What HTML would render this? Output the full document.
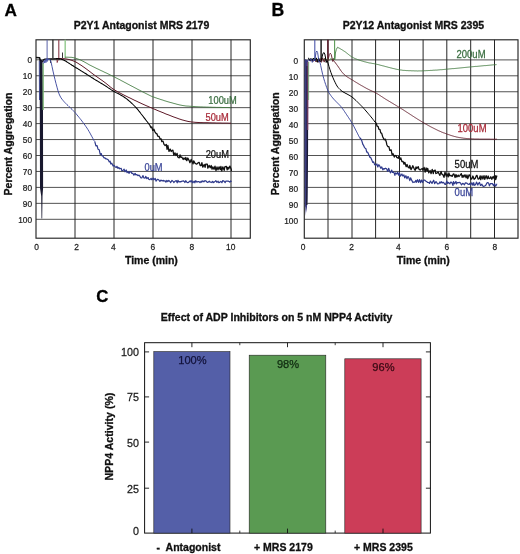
<!DOCTYPE html>
<html><head><meta charset="utf-8"><title>Figure</title>
<style>
html,body{margin:0;padding:0;background:#fff;}
body{width:520px;height:554px;overflow:hidden;}
svg{display:block;font-family:"Liberation Sans",Arial,Helvetica,sans-serif;}
</style></head><body>
<svg width="520" height="554" viewBox="0 0 520 554">
<rect width="520" height="554" fill="#fff"/>
<rect x="36.00" y="39.80" width="214.30" height="198.40" fill="#fff" stroke="#262626" stroke-width="1.15"/>
<line x1="75.00" y1="39.80" x2="75.00" y2="238.20" stroke="#262626" stroke-width="1.0"/>
<line x1="114.00" y1="39.80" x2="114.00" y2="238.20" stroke="#262626" stroke-width="1.0"/>
<line x1="153.00" y1="39.80" x2="153.00" y2="238.20" stroke="#262626" stroke-width="1.0"/>
<line x1="192.00" y1="39.80" x2="192.00" y2="238.20" stroke="#262626" stroke-width="1.0"/>
<line x1="231.00" y1="39.80" x2="231.00" y2="238.20" stroke="#262626" stroke-width="1.0"/>
<line x1="36.00" y1="59.80" x2="250.30" y2="59.80" stroke="#262626" stroke-width="0.8"/>
<line x1="36.00" y1="75.75" x2="250.30" y2="75.75" stroke="#262626" stroke-width="0.8"/>
<line x1="36.00" y1="91.70" x2="250.30" y2="91.70" stroke="#262626" stroke-width="0.8"/>
<line x1="36.00" y1="107.65" x2="250.30" y2="107.65" stroke="#262626" stroke-width="0.8"/>
<line x1="36.00" y1="123.60" x2="250.30" y2="123.60" stroke="#262626" stroke-width="0.8"/>
<line x1="36.00" y1="139.55" x2="250.30" y2="139.55" stroke="#262626" stroke-width="0.8"/>
<line x1="36.00" y1="155.50" x2="250.30" y2="155.50" stroke="#262626" stroke-width="0.8"/>
<line x1="36.00" y1="171.45" x2="250.30" y2="171.45" stroke="#262626" stroke-width="0.8"/>
<line x1="36.00" y1="187.40" x2="250.30" y2="187.40" stroke="#262626" stroke-width="0.8"/>
<line x1="36.00" y1="203.35" x2="250.30" y2="203.35" stroke="#262626" stroke-width="0.8"/>
<line x1="36.00" y1="219.30" x2="250.30" y2="219.30" stroke="#262626" stroke-width="0.8"/>
<text transform="translate(32.00,63.10) scale(0.900,1)" font-size="9.21" font-weight="normal" text-anchor="end" fill="#222"  stroke="#222" stroke-width="0.25">0</text>
<text transform="translate(32.00,79.05) scale(0.900,1)" font-size="9.21" font-weight="normal" text-anchor="end" fill="#222"  stroke="#222" stroke-width="0.25">10</text>
<text transform="translate(32.00,95.00) scale(0.900,1)" font-size="9.21" font-weight="normal" text-anchor="end" fill="#222"  stroke="#222" stroke-width="0.25">20</text>
<text transform="translate(32.00,110.95) scale(0.900,1)" font-size="9.21" font-weight="normal" text-anchor="end" fill="#222"  stroke="#222" stroke-width="0.25">30</text>
<text transform="translate(32.00,126.90) scale(0.900,1)" font-size="9.21" font-weight="normal" text-anchor="end" fill="#222"  stroke="#222" stroke-width="0.25">40</text>
<text transform="translate(32.00,142.85) scale(0.900,1)" font-size="9.21" font-weight="normal" text-anchor="end" fill="#222"  stroke="#222" stroke-width="0.25">50</text>
<text transform="translate(32.00,158.80) scale(0.900,1)" font-size="9.21" font-weight="normal" text-anchor="end" fill="#222"  stroke="#222" stroke-width="0.25">60</text>
<text transform="translate(32.00,174.75) scale(0.900,1)" font-size="9.21" font-weight="normal" text-anchor="end" fill="#222"  stroke="#222" stroke-width="0.25">70</text>
<text transform="translate(32.00,190.70) scale(0.900,1)" font-size="9.21" font-weight="normal" text-anchor="end" fill="#222"  stroke="#222" stroke-width="0.25">80</text>
<text transform="translate(32.00,206.65) scale(0.900,1)" font-size="9.21" font-weight="normal" text-anchor="end" fill="#222"  stroke="#222" stroke-width="0.25">90</text>
<text transform="translate(32.00,222.60) scale(0.900,1)" font-size="9.21" font-weight="normal" text-anchor="end" fill="#222"  stroke="#222" stroke-width="0.25">100</text>
<text transform="translate(36.50,249.90) scale(0.860,1)" font-size="9.80" font-weight="normal" text-anchor="middle" fill="#222"  stroke="#222" stroke-width="0.25">0</text>
<text transform="translate(76.70,249.90) scale(0.860,1)" font-size="9.80" font-weight="normal" text-anchor="middle" fill="#222"  stroke="#222" stroke-width="0.25">2</text>
<text transform="translate(113.30,249.90) scale(0.860,1)" font-size="9.80" font-weight="normal" text-anchor="middle" fill="#222"  stroke="#222" stroke-width="0.25">4</text>
<text transform="translate(152.80,249.90) scale(0.860,1)" font-size="9.80" font-weight="normal" text-anchor="middle" fill="#222"  stroke="#222" stroke-width="0.25">6</text>
<text transform="translate(191.90,249.90) scale(0.860,1)" font-size="9.80" font-weight="normal" text-anchor="middle" fill="#222"  stroke="#222" stroke-width="0.25">8</text>
<text transform="translate(230.70,249.90) scale(0.860,1)" font-size="9.80" font-weight="normal" text-anchor="middle" fill="#222"  stroke="#222" stroke-width="0.25">10</text>
<text x="141.50" y="29.40" font-size="10.50" font-weight="bold" text-anchor="middle" fill="#111"  stroke="#111" stroke-width="0.3">P2Y1 Antagonist MRS 2179</text>
<text x="4.50" y="16.00" font-size="17.20" font-weight="bold" text-anchor="start" fill="#000"  stroke="#000" stroke-width="0.3">A</text>
<text x="151.40" y="263.70" font-size="10.50" font-weight="bold" text-anchor="middle" fill="#111"  stroke="#111" stroke-width="0.3">Time (min)</text>
<text transform="translate(12.3,144) rotate(-90)" font-size="10.5" font-weight="bold" text-anchor="middle" fill="#111" stroke="#111" stroke-width="0.3">Percent Aggregation</text>
<line x1="47.1" y1="39.8" x2="47.1" y2="58.0" stroke="#5a62a8" stroke-width="1.0"/>
<line x1="52.9" y1="39.8" x2="52.9" y2="58.0" stroke="#1a1a1a" stroke-width="1.2"/>
<line x1="58.8" y1="39.8" x2="58.8" y2="58.0" stroke="#8a3a48" stroke-width="1.1"/>
<line x1="65.2" y1="39.8" x2="65.2" y2="58.0" stroke="#98cc94" stroke-width="1.5"/>
<path d="M39.6,59 L42.6,60.5 L43.0,110 L43.1,188 L42.5,196 L42.2,218.5 L41.5,218.5 L41.2,196 L40.0,188 L39.8,110 Z" fill="#18182e"/>
<path d="M39.3,61 L39.5,100" stroke="#2f3a88" stroke-width="0.9" fill="none"/>
<path d="M43.2,63 L43.2,110" stroke="#7fb878" stroke-width="1.3" fill="none"/>
<path d="M36,57.6 L39.6,57.8 L40.4,61 M42.6,62 L43.4,60 L45,59.2 L50,58.9 L60,58.7" stroke="#111" stroke-width="1.5" fill="none" stroke-linejoin="round"/>
<path d="M43.6,63.5 L44.2,60.5 L44.8,63 L45.4,59.5 L46,62.5 L46.6,58.5 L47.2,61.5 L47.6,58 L48.2,60 L49,59 L50.2,60" stroke="#4a55a8" stroke-width="0.9" fill="none" stroke-linejoin="round"/>
<path d="M50.6,59.5 L50.6,63 M62.5,52.5 L62.5,58" stroke="#222" stroke-width="0.9" fill="none"/>
<path d="M57,59.5 L57.2,62.5 L58,60" stroke="#8a3a48" stroke-width="1" fill="none"/>
<path d="M65.1,57.2 L66.1,57.2 L67.1,57.2 L68.1,57.2 L69.1,57.3 L70.1,57.3 L71.1,57.3 L72.1,57.4 L73.1,57.6 L74.1,57.8 L75.1,58.1 L76.1,58.4 L77.1,58.7 L78.1,59.1 L79.1,59.4 L80.1,59.8 L81.1,60.3 L82.1,60.8 L83.1,61.3 L84.1,61.8 L85.1,62.4 L86.1,62.9 L87.1,63.5 L88.1,64.1 L89.1,64.7 L90.1,65.2 L91.1,65.7 L92.1,66.2 L93.1,66.7 L94.1,67.2 L95.1,67.7 L96.1,68.2 L97.1,68.7 L98.1,69.1 L99.1,69.6 L100.1,70.1 L101.1,70.6 L102.1,71.0 L103.1,71.5 L104.1,72.0 L105.1,72.5 L106.1,72.9 L107.1,73.4 L108.1,73.9 L109.1,74.4 L110.1,74.9 L111.1,75.4 L112.1,75.8 L113.1,76.3 L114.1,76.9 L115.1,77.4 L116.1,77.9 L117.1,78.4 L118.1,78.9 L119.1,79.4 L120.1,79.9 L121.1,80.5 L122.1,81.0 L123.1,81.5 L124.1,82.1 L125.1,82.6 L126.1,83.1 L127.1,83.7 L128.1,84.2 L129.1,84.7 L130.1,85.3 L131.1,85.8 L132.1,86.3 L133.1,86.8 L134.1,87.4 L135.1,87.9 L136.1,88.4 L137.1,89.0 L138.1,89.5 L139.1,90.0 L140.1,90.5 L141.1,91.0 L142.1,91.6 L143.1,92.1 L144.1,92.6 L145.1,93.1 L146.1,93.6 L147.1,94.1 L148.1,94.6 L149.1,95.1 L150.1,95.6 L151.1,96.1 L152.1,96.5 L153.1,96.9 L154.1,97.2 L155.1,97.6 L156.1,97.9 L157.1,98.3 L158.1,98.6 L159.1,98.9 L160.1,99.3 L161.1,99.6 L162.1,99.9 L163.1,100.2 L164.1,100.6 L165.1,100.9 L166.1,101.2 L167.1,101.5 L168.1,101.8 L169.1,102.1 L170.1,102.4 L171.1,102.6 L172.1,102.9 L173.1,103.2 L174.1,103.5 L175.1,103.7 L176.1,104.0 L177.1,104.3 L178.1,104.5 L179.1,104.8 L180.1,105.0 L181.1,105.2 L182.1,105.4 L183.1,105.6 L184.1,105.7 L185.1,105.9 L186.1,106.0 L187.1,106.1 L188.1,106.1 L189.1,106.2 L190.1,106.3 L191.1,106.3 L192.1,106.4 L193.1,106.5 L194.1,106.5 L195.1,106.6 L196.1,106.7 L197.1,106.7 L198.1,106.8 L199.1,106.8 L200.1,106.9 L201.1,106.9 L202.1,106.9 L203.1,107.0 L204.1,107.0 L205.1,107.0 L206.1,107.1 L207.1,107.1 L208.1,107.1 L209.1,107.2 L210.1,107.2 L211.1,107.2 L212.1,107.3 L213.1,107.3 L214.1,107.3 L215.1,107.3 L216.1,107.4 L217.1,107.4 L218.1,107.4 L219.1,107.4 L220.1,107.4 L221.1,107.4 L222.1,107.5 L223.1,107.5 L224.1,107.5 L225.1,107.5 L226.1,107.5 L227.1,107.5 L228.1,107.5 L229.1,107.6 L230.1,107.6 L231.0,107.6" fill="none" stroke="#447c42" stroke-width="0.9"/>
<path d="M58.0,58.6 L59.0,58.6 L60.0,58.6 L61.0,58.6 L62.0,58.7 L63.0,58.7 L64.0,58.7 L65.0,58.8 L66.0,58.9 L67.0,59.1 L68.0,59.3 L69.0,59.5 L70.0,59.8 L71.0,60.1 L72.0,60.4 L73.0,60.8 L74.0,61.2 L75.0,61.6 L76.0,62.1 L77.0,62.7 L78.0,63.3 L79.0,64.0 L80.0,64.6 L81.0,65.2 L82.0,65.9 L83.0,66.6 L84.0,67.3 L85.0,68.0 L86.0,68.7 L87.0,69.5 L88.0,70.2 L89.0,71.0 L90.0,71.7 L91.0,72.5 L92.0,73.3 L93.0,74.0 L94.0,74.8 L95.0,75.5 L96.0,76.2 L97.0,76.9 L98.0,77.6 L99.0,78.3 L100.0,79.0 L101.0,79.7 L102.0,80.4 L103.0,81.1 L104.0,81.9 L105.0,82.6 L106.0,83.4 L107.0,84.2 L108.0,85.0 L109.0,85.8 L110.0,86.7 L111.0,87.5 L112.0,88.2 L113.0,89.0 L114.0,89.6 L115.0,90.2 L116.0,90.8 L117.0,91.4 L118.0,91.9 L119.0,92.5 L120.0,93.0 L121.0,93.5 L122.0,94.1 L123.0,94.6 L124.0,95.1 L125.0,95.6 L126.0,96.1 L127.0,96.6 L128.0,97.1 L129.0,97.6 L130.0,98.0 L131.0,98.5 L132.0,99.0 L133.0,99.5 L134.0,100.0 L135.0,100.5 L136.0,100.9 L137.0,101.4 L138.0,101.9 L139.0,102.4 L140.0,102.8 L141.0,103.3 L142.0,103.8 L143.0,104.2 L144.0,104.7 L145.0,105.1 L146.0,105.6 L147.0,106.0 L148.0,106.4 L149.0,106.9 L150.0,107.3 L151.0,107.7 L152.0,108.2 L153.0,108.6 L154.0,109.0 L155.0,109.4 L156.0,109.8 L157.0,110.3 L158.0,110.7 L159.0,111.1 L160.0,111.5 L161.0,111.9 L162.0,112.3 L163.0,112.7 L164.0,113.1 L165.0,113.6 L166.0,114.0 L167.0,114.4 L168.0,114.7 L169.0,115.1 L170.0,115.5 L171.0,115.9 L172.0,116.3 L173.0,116.7 L174.0,117.1 L175.0,117.4 L176.0,117.8 L177.0,118.1 L178.0,118.5 L179.0,118.9 L180.0,119.2 L181.0,119.5 L182.0,119.9 L183.0,120.1 L184.0,120.4 L185.0,120.7 L186.0,120.9 L187.0,121.2 L188.0,121.4 L189.0,121.6 L190.0,121.7 L191.0,121.9 L192.0,122.0 L193.0,122.1 L194.0,122.2 L195.0,122.3 L196.0,122.4 L197.0,122.4 L198.0,122.5 L199.0,122.5 L200.0,122.6 L201.0,122.6 L202.0,122.6 L203.0,122.7 L204.0,122.7 L205.0,122.7 L206.0,122.7 L207.0,122.7 L208.0,122.7 L209.0,122.8 L210.0,122.8 L211.0,122.8 L212.0,122.9 L213.0,122.9 L214.0,122.9 L215.0,122.9 L216.0,123.0 L217.0,123.0 L218.0,123.0 L219.0,123.0 L220.0,123.0 L221.0,123.0 L222.0,123.1 L223.0,123.1 L224.0,123.1 L225.0,123.1 L226.0,123.1 L227.0,123.1 L228.0,123.1 L229.0,123.2 L230.0,123.2 L231.0,123.2" fill="none" stroke="#5e1a28" stroke-width="1"/>
<path d="M56.0,58.7 L57.0,58.7 L58.0,58.7 L59.0,58.8 L60.0,58.9 L61.0,59.1 L62.0,59.4 L63.0,59.8 L64.0,60.2 L65.0,60.7 L66.0,61.3 L67.0,62.0 L68.0,62.6 L69.0,63.2 L70.0,63.9 L71.0,64.5 L72.0,65.2 L73.0,65.8 L74.0,66.5 L75.0,67.1 L76.0,67.7 L77.0,68.3 L78.0,68.9 L79.0,69.5 L80.0,70.1 L81.0,70.8 L82.0,71.4 L83.0,72.0 L84.0,72.6 L85.0,73.2 L86.0,73.8 L87.0,74.5 L88.0,75.1 L89.0,75.8 L90.0,76.4 L91.0,77.1 L92.0,77.7 L93.0,78.3 L94.0,79.0 L95.0,79.6 L96.0,80.2 L97.0,80.8 L98.0,81.4 L99.0,82.0 L100.0,82.6 L101.0,83.2 L102.0,83.8 L103.0,84.4 L104.0,85.0 L105.0,85.6 L106.0,86.2 L107.0,86.9 L108.0,87.6 L109.0,88.2 L110.0,88.9 L111.0,89.6 L112.0,90.2 L113.0,90.9 L114.0,91.5 L115.0,92.1 L116.0,92.6 L117.0,93.1 L118.0,93.5 L119.0,94.0 L120.0,94.6 L121.0,95.2 L122.0,95.8 L123.0,96.4 L124.0,97.0 L125.0,97.7 L126.0,98.4 L127.0,99.2 L128.0,100.0 L129.0,100.8 L130.0,101.7 L131.0,102.6 L132.0,103.5 L133.0,104.5 L134.0,105.5 L135.0,106.5 L136.0,107.6 L137.0,108.7 L138.0,109.8 L139.0,111.1 L140.0,112.3 L141.0,113.7 L142.0,115.0 L143.0,116.3 L144.0,117.6 L145.0,118.9 L146.0,120.2 L147.0,121.5 L148.0,122.8 L149.0,124.1 L149.7,125.0" fill="none" stroke="#000" stroke-width="1.05" stroke-linejoin="round"/>
<path d="M149.7,125.0 L151.0,127.6 L151.8,127.0 L152.8,130.5 L153.9,129.3 L154.9,131.8 L156.2,133.6 L156.9,133.7 L157.8,136.2 L159.1,136.5 L160.1,139.0 L161.2,138.9 L161.8,141.5 L163.0,141.1 L164.0,144.4 L165.1,145.5 L166.3,144.5 L167.1,149.3 L167.9,145.5 L169.0,151.4 L170.2,149.1 L171.2,151.5 L172.2,150.4 L172.9,150.2 L173.8,155.1 L175.0,152.9 L176.0,155.5 L177.1,153.4 L177.7,157.0 L179.2,157.9 L180.1,154.8 L180.8,157.4 L181.8,157.0 L183.2,159.5 L183.9,157.9 L185.3,159.5 L185.8,157.5 L186.8,160.7 L187.8,158.0 L189.3,160.9 L189.9,162.7 L191.2,159.4 L192.3,162.3 L193.1,163.9 L193.7,160.8 L195.1,163.4 L196.3,164.0 L196.8,164.1 L198.2,162.7 L199.2,162.4 L200.2,165.6 L201.2,165.5 L201.9,162.6 L202.8,167.1 L204.2,164.5 L205.1,167.4 L205.7,164.2 L207.3,164.2 L207.8,168.2 L209.1,165.4 L210.2,167.7 L211.2,165.5 L212.0,169.2 L212.8,166.9 L214.0,169.3 L215.0,166.1 L216.0,170.6 L217.0,167.0 L218.0,169.9 L219.1,166.8 L220.3,169.7 L220.9,166.3 L221.8,170.8 L222.8,166.8 L224.2,170.3 L224.8,166.9 L226.3,166.3 L227.2,169.8 L227.9,167.2 L228.7,169.0 L229.9,166.1 L231.3,169.6 L231.4,171.0" fill="none" stroke="#111" stroke-width="1.3" stroke-linejoin="round"/>
<path d="M50.0,59.5 L51.0,62.0 L52.0,66.4 L53.0,71.1 L54.0,75.4 L55.0,79.6 L56.0,83.5 L57.0,87.2 L58.0,90.8 L59.0,93.8 L60.0,96.0 L61.0,97.8 L62.0,99.2 L63.0,100.4 L64.0,101.6 L65.0,102.7 L66.0,103.7 L67.0,104.7 L68.0,105.6 L69.0,106.6 L70.0,107.5 L71.0,108.5 L72.0,109.4 L73.0,110.4 L74.0,111.5 L75.0,112.5 L76.0,113.7 L77.0,114.9 L78.0,116.1 L79.0,117.3 L80.0,118.6 L81.0,119.8 L82.0,121.1 L83.0,122.5 L84.0,123.8 L85.0,125.2 L86.0,126.7 L87.0,128.1 L88.0,129.7 L89.0,131.4 L90.0,133.1 L91.0,135.0 L92.0,136.8 L93.0,138.7 L94.0,140.6 L94.8,141.6" fill="none" stroke="#36419a" stroke-width="0.9" stroke-linejoin="round"/>
<path d="M94.8,141.6 L95.9,145.9 L97.1,145.7 L98.0,149.2 L99.2,149.7 L100.2,154.4 L101.3,153.6 L101.8,155.6 L102.8,155.9 L103.9,157.8 L104.7,157.8 L106.0,159.0 L106.8,158.9 L108.2,159.7 L109.3,161.9 L110.1,161.1 L110.8,164.0 L111.8,163.2 L113.1,166.1 L114.0,165.3 L115.3,166.9 L116.3,167.5 L116.9,166.4 L118.0,168.4 L118.9,167.5 L119.8,168.8 L121.1,168.3 L121.9,170.7 L123.1,170.3 L124.1,169.2 L125.0,171.8 L126.2,170.0 L127.1,172.7 L127.9,171.7 L129.1,173.4 L129.7,171.7 L131.0,171.9 L131.9,173.5 L132.8,173.2 L133.9,175.2 L135.1,173.4 L135.9,174.9 L136.7,174.5 L138.1,175.7 L139.0,175.1 L139.8,176.2 L141.0,178.0 L141.9,177.8 L143.0,175.6 L143.8,177.8 L145.1,178.1 L145.7,176.4 L146.9,178.6 L148.2,177.6 L148.8,179.4 L149.9,179.6 L151.1,178.3 L151.7,179.7 L153.3,178.2 L153.8,179.9 L155.2,178.4 L156.0,181.1 L157.0,179.8 L157.7,179.3 L158.9,180.0 L159.9,181.4 L160.9,180.1 L162.2,181.0 L163.3,180.4 L163.8,181.2 L164.9,180.7 L165.9,182.2 L166.9,180.4 L167.8,181.6 L168.8,180.4 L170.0,181.7 L170.7,182.5 L172.0,180.4 L173.3,181.6 L173.8,182.6 L175.1,181.2 L176.2,180.6 L177.2,182.8 L177.9,180.4 L179.1,182.1 L180.0,181.5 L180.7,182.0 L182.1,181.1 L182.8,181.1 L183.7,180.9 L184.9,182.5 L185.7,180.7 L186.8,182.2 L187.8,182.6 L188.8,182.1 L190.3,180.8 L191.0,182.0 L191.9,180.7 L192.7,182.8 L194.2,181.2 L194.9,182.8 L195.7,180.7 L196.9,182.2 L197.9,181.6 L198.8,181.5 L200.0,182.6 L201.3,181.1 L201.7,182.2 L202.7,180.8 L203.9,181.9 L204.9,180.7 L206.1,181.0 L207.2,182.3 L207.7,182.5 L209.3,181.1 L210.0,182.1 L211.1,182.0 L211.9,182.6 L212.7,181.3 L213.7,182.6 L215.3,181.1 L215.8,180.6 L217.0,182.3 L218.1,181.2 L218.8,182.7 L219.9,182.1 L220.8,181.4 L221.9,182.7 L222.8,180.6 L223.8,181.0 L225.2,182.6 L225.8,181.1 L226.9,181.0 L228.2,181.1 L229.1,181.5 L229.8,182.2 L230.8,181.0 L231.3,182.1" fill="none" stroke="#2f3a8c" stroke-width="1.2" stroke-linejoin="round"/>
<text transform="translate(208.30,103.90) scale(0.930,1)" font-size="10.00" font-weight="normal" text-anchor="start" fill="#3a6e40"  stroke="#3a6e40" stroke-width="0.25">100uM</text>
<text transform="translate(205.50,120.70) scale(0.930,1)" font-size="10.00" font-weight="normal" text-anchor="start" fill="#a82a38"  stroke="#a82a38" stroke-width="0.25">50uM</text>
<text transform="translate(205.70,157.80) scale(0.930,1)" font-size="10.00" font-weight="normal" text-anchor="start" fill="#111"  stroke="#111" stroke-width="0.25">20uM</text>
<text transform="translate(144.50,170.50) scale(0.930,1)" font-size="10.00" font-weight="normal" text-anchor="start" fill="#3a4598"  stroke="#3a4598" stroke-width="0.25">0uM</text>
<rect x="304.30" y="39.80" width="213.70" height="198.40" fill="#fff" stroke="#262626" stroke-width="1.15"/>
<line x1="328.00" y1="39.80" x2="328.00" y2="238.20" stroke="#262626" stroke-width="1.0"/>
<line x1="352.00" y1="39.80" x2="352.00" y2="238.20" stroke="#262626" stroke-width="1.0"/>
<line x1="375.60" y1="39.80" x2="375.60" y2="238.20" stroke="#262626" stroke-width="1.0"/>
<line x1="399.50" y1="39.80" x2="399.50" y2="238.20" stroke="#262626" stroke-width="1.0"/>
<line x1="423.10" y1="39.80" x2="423.10" y2="238.20" stroke="#262626" stroke-width="1.0"/>
<line x1="446.80" y1="39.80" x2="446.80" y2="238.20" stroke="#262626" stroke-width="1.0"/>
<line x1="470.70" y1="39.80" x2="470.70" y2="238.20" stroke="#262626" stroke-width="1.0"/>
<line x1="494.50" y1="39.80" x2="494.50" y2="238.20" stroke="#262626" stroke-width="1.0"/>
<line x1="304.30" y1="59.90" x2="518.00" y2="59.90" stroke="#262626" stroke-width="0.8"/>
<line x1="304.30" y1="75.80" x2="518.00" y2="75.80" stroke="#262626" stroke-width="0.8"/>
<line x1="304.30" y1="91.75" x2="518.00" y2="91.75" stroke="#262626" stroke-width="0.8"/>
<line x1="304.30" y1="107.70" x2="518.00" y2="107.70" stroke="#262626" stroke-width="0.8"/>
<line x1="304.30" y1="123.65" x2="518.00" y2="123.65" stroke="#262626" stroke-width="0.8"/>
<line x1="304.30" y1="139.60" x2="518.00" y2="139.60" stroke="#262626" stroke-width="0.8"/>
<line x1="304.30" y1="155.50" x2="518.00" y2="155.50" stroke="#262626" stroke-width="0.8"/>
<line x1="304.30" y1="171.45" x2="518.00" y2="171.45" stroke="#262626" stroke-width="0.8"/>
<line x1="304.30" y1="187.40" x2="518.00" y2="187.40" stroke="#262626" stroke-width="0.8"/>
<line x1="304.30" y1="203.35" x2="518.00" y2="203.35" stroke="#262626" stroke-width="0.8"/>
<line x1="304.30" y1="219.30" x2="518.00" y2="219.30" stroke="#262626" stroke-width="0.8"/>
<text transform="translate(298.00,64.20) scale(0.900,1)" font-size="9.21" font-weight="normal" text-anchor="end" fill="#222"  stroke="#222" stroke-width="0.25">0</text>
<text transform="translate(298.00,80.10) scale(0.900,1)" font-size="9.21" font-weight="normal" text-anchor="end" fill="#222"  stroke="#222" stroke-width="0.25">10</text>
<text transform="translate(298.00,96.05) scale(0.900,1)" font-size="9.21" font-weight="normal" text-anchor="end" fill="#222"  stroke="#222" stroke-width="0.25">20</text>
<text transform="translate(298.00,112.00) scale(0.900,1)" font-size="9.21" font-weight="normal" text-anchor="end" fill="#222"  stroke="#222" stroke-width="0.25">30</text>
<text transform="translate(298.00,127.95) scale(0.900,1)" font-size="9.21" font-weight="normal" text-anchor="end" fill="#222"  stroke="#222" stroke-width="0.25">40</text>
<text transform="translate(298.00,143.90) scale(0.900,1)" font-size="9.21" font-weight="normal" text-anchor="end" fill="#222"  stroke="#222" stroke-width="0.25">50</text>
<text transform="translate(298.00,159.80) scale(0.900,1)" font-size="9.21" font-weight="normal" text-anchor="end" fill="#222"  stroke="#222" stroke-width="0.25">60</text>
<text transform="translate(298.00,175.75) scale(0.900,1)" font-size="9.21" font-weight="normal" text-anchor="end" fill="#222"  stroke="#222" stroke-width="0.25">70</text>
<text transform="translate(298.00,191.70) scale(0.900,1)" font-size="9.21" font-weight="normal" text-anchor="end" fill="#222"  stroke="#222" stroke-width="0.25">80</text>
<text transform="translate(298.00,207.65) scale(0.900,1)" font-size="9.21" font-weight="normal" text-anchor="end" fill="#222"  stroke="#222" stroke-width="0.25">90</text>
<text transform="translate(298.00,223.60) scale(0.900,1)" font-size="9.21" font-weight="normal" text-anchor="end" fill="#222"  stroke="#222" stroke-width="0.25">100</text>
<text transform="translate(303.10,249.90) scale(0.860,1)" font-size="9.80" font-weight="normal" text-anchor="middle" fill="#222"  stroke="#222" stroke-width="0.25">0</text>
<text transform="translate(351.70,249.90) scale(0.860,1)" font-size="9.80" font-weight="normal" text-anchor="middle" fill="#222"  stroke="#222" stroke-width="0.25">2</text>
<text transform="translate(398.30,249.90) scale(0.860,1)" font-size="9.80" font-weight="normal" text-anchor="middle" fill="#222"  stroke="#222" stroke-width="0.25">4</text>
<text transform="translate(446.80,249.90) scale(0.860,1)" font-size="9.80" font-weight="normal" text-anchor="middle" fill="#222"  stroke="#222" stroke-width="0.25">6</text>
<text transform="translate(494.90,249.90) scale(0.860,1)" font-size="9.80" font-weight="normal" text-anchor="middle" fill="#222"  stroke="#222" stroke-width="0.25">8</text>
<text x="413.40" y="29.40" font-size="10.50" font-weight="bold" text-anchor="middle" fill="#111"  stroke="#111" stroke-width="0.3">P2Y12 Antagonist MRS 2395</text>
<text x="271.40" y="16.00" font-size="17.60" font-weight="bold" text-anchor="start" fill="#000"  stroke="#000" stroke-width="0.3">B</text>
<text x="423.30" y="263.70" font-size="10.50" font-weight="bold" text-anchor="middle" fill="#111"  stroke="#111" stroke-width="0.3">Time (min)</text>
<text transform="translate(279.0,143.8) rotate(-90)" font-size="10.5" font-weight="bold" text-anchor="middle" fill="#111" stroke="#111" stroke-width="0.3">Percent Aggregation</text>
<line x1="314.8" y1="39.8" x2="314.8" y2="60.0" stroke="#4a55a8" stroke-width="1.1"/>
<line x1="321.1" y1="39.8" x2="321.1" y2="60.0" stroke="#111" stroke-width="1.4"/>
<line x1="327.9" y1="39.8" x2="327.9" y2="60.0" stroke="#5a1525" stroke-width="1.4"/>
<line x1="334.6" y1="39.8" x2="334.6" y2="60.0" stroke="#5a9a55" stroke-width="1.1"/>
<path d="M304.6,59 L308.3,60.5 L308.1,150 L307.4,200 L306.6,213 L305.8,206 L305.3,216 L304.8,205 L304.6,150 Z" fill="#3c3c80"/>
<path d="M307.2,66 L307.3,150 L306.8,205" stroke="#15152a" stroke-width="1.2" fill="none"/>
<path d="M307.9,62 L307.8,130" stroke="#9a4a70" stroke-width="0.9" fill="none"/>
<path d="M308.7,62 L308.6,100" stroke="#6aa868" stroke-width="0.8" fill="none"/>
<path d="M309.0,58.7 L310.1,61.0 L311.5,59.0 L312.6,60.4 L314.0,58.2 L315.0,60.1 L316.5,58.5 L317.7,60.3 L319.4,58.7 L320.8,60.4 L322.1,57.9 L323.8,60.4 L324.9,58.1 L326.1,59.9 L327.7,58.5 L329.3,60.4 L330.9,58.5 L332.0,59.9 L333.4,58.2 L334.6,60.0 L335.0,58.0 L335.4,53.0 L336.3,49.5 L337.5,47.3 L337.7,47.3 L338.7,47.9 L339.7,48.4 L340.7,49.0 L341.7,49.6 L342.7,50.2 L343.7,50.9 L344.7,51.5 L345.7,52.2 L346.7,53.0 L347.7,53.8 L348.7,54.6 L349.7,55.4 L350.7,56.1 L351.7,56.8 L352.7,57.4 L353.7,57.9 L354.7,58.4 L355.7,58.8 L356.7,59.2 L357.7,59.6 L358.7,59.9 L359.7,60.3 L360.7,60.6 L361.7,60.9 L362.7,61.2 L363.7,61.5 L364.7,61.8 L365.7,62.0 L366.7,62.3 L367.7,62.5 L368.7,62.8 L369.7,63.0 L370.7,63.1 L371.7,63.3 L372.7,63.5 L373.7,63.6 L374.7,63.8 L375.7,64.0 L376.7,64.3 L377.7,64.5 L378.7,64.7 L379.7,65.0 L380.7,65.3 L381.7,65.5 L382.7,65.8 L383.7,66.0 L384.7,66.3 L385.7,66.6 L386.7,66.8 L387.7,67.1 L388.7,67.4 L389.7,67.6 L390.7,67.9 L391.7,68.1 L392.7,68.4 L393.7,68.6 L394.7,68.8 L395.7,69.1 L396.7,69.3 L397.7,69.5 L398.7,69.7 L399.7,69.8 L400.7,70.0 L401.7,70.1 L402.7,70.3 L403.7,70.4 L404.7,70.4 L405.7,70.5 L406.7,70.6 L407.7,70.6 L408.7,70.7 L409.7,70.7 L410.7,70.7 L411.7,70.8 L412.7,70.8 L413.7,70.8 L414.7,70.9 L415.7,70.9 L416.7,70.9 L417.7,71.0 L418.7,70.9 L419.7,70.9 L420.7,70.9 L421.7,70.9 L422.7,70.8 L423.7,70.8 L424.7,70.7 L425.7,70.7 L426.7,70.6 L427.7,70.6 L428.7,70.5 L429.7,70.5 L430.7,70.4 L431.7,70.4 L432.7,70.3 L433.7,70.2 L434.7,70.2 L435.7,70.1 L436.7,70.1 L437.7,70.0 L438.7,69.9 L439.7,69.8 L440.7,69.7 L441.7,69.7 L442.7,69.6 L443.7,69.5 L444.7,69.4 L445.7,69.3 L446.7,69.2 L447.7,69.1 L448.7,69.0 L449.7,68.9 L450.7,68.8 L451.7,68.7 L452.7,68.6 L453.7,68.6 L454.7,68.5 L455.7,68.4 L456.7,68.3 L457.7,68.2 L458.7,68.1 L459.7,68.0 L460.7,67.9 L461.7,67.8 L462.7,67.7 L463.7,67.6 L464.7,67.5 L465.7,67.4 L466.7,67.3 L467.7,67.2 L468.7,67.1 L469.7,67.0 L470.7,66.9 L471.7,66.8 L472.7,66.7 L473.7,66.6 L474.7,66.5 L475.7,66.4 L476.7,66.4 L477.7,66.3 L478.7,66.2 L479.7,66.1 L480.7,66.0 L481.7,65.9 L482.7,65.8 L483.7,65.7 L484.7,65.6 L485.7,65.6 L486.7,65.5 L487.7,65.4 L488.7,65.3 L489.7,65.2 L490.7,65.1 L491.7,65.0 L492.7,64.9 L493.7,64.8 L494.7,64.8 L495.7,64.7 L496.5,64.6" fill="none" stroke="#447c42" stroke-width="0.9" stroke-linejoin="round"/>
<path d="M309.0,59.3 L310.4,61.2 L311.8,59.2 L313.0,61.5 L314.6,59.3 L316.0,62.0 L317.7,59.1 L318.7,62.3 L320.4,58.6 L321.5,62.3 L322.7,57.8 L324.2,62.1 L325.3,58.0 L326.4,61.3 L327.9,61.0 L328.5,58.0 L329.3,54.5 L330.3,53.2 L331.2,54.5 L332.0,58.0 L332.8,61.5 L333.5,59.5 L333.5,60.5 L334.5,61.7 L335.5,63.0 L336.5,64.3 L337.5,65.7 L338.5,67.1 L339.5,68.6 L340.5,70.1 L341.5,71.5 L342.5,72.7 L343.5,73.8 L344.5,74.8 L345.5,75.6 L346.5,76.4 L347.5,77.1 L348.5,77.7 L349.5,78.3 L350.5,78.9 L351.5,79.5 L352.5,80.1 L353.5,80.7 L354.5,81.4 L355.5,82.0 L356.5,82.6 L357.5,83.2 L358.5,83.8 L359.5,84.4 L360.5,85.0 L361.5,85.6 L362.5,86.1 L363.5,86.7 L364.5,87.3 L365.5,87.8 L366.5,88.4 L367.5,88.9 L368.5,89.4 L369.5,89.9 L370.5,90.4 L371.5,90.8 L372.5,91.3 L373.5,91.7 L374.5,92.2 L375.5,92.7 L376.5,93.3 L377.5,93.9 L378.5,94.5 L379.5,95.2 L380.5,95.8 L381.5,96.5 L382.5,97.1 L383.5,97.8 L384.5,98.4 L385.5,99.1 L386.5,99.7 L387.5,100.3 L388.5,100.9 L389.5,101.5 L390.5,102.1 L391.5,102.7 L392.5,103.3 L393.5,103.9 L394.5,104.5 L395.5,105.1 L396.5,105.7 L397.5,106.3 L398.5,106.9 L399.5,107.5 L400.5,108.1 L401.5,108.8 L402.5,109.4 L403.5,110.0 L404.5,110.7 L405.5,111.3 L406.5,112.0 L407.5,112.6 L408.5,113.3 L409.5,113.9 L410.5,114.6 L411.5,115.2 L412.5,115.9 L413.5,116.5 L414.5,117.2 L415.5,117.8 L416.5,118.4 L417.5,119.1 L418.5,119.7 L419.5,120.3 L420.5,120.9 L421.5,121.5 L422.5,122.1 L423.5,122.7 L424.5,123.3 L425.5,123.9 L426.5,124.4 L427.5,125.0 L428.5,125.6 L429.5,126.1 L430.5,126.7 L431.5,127.2 L432.5,127.7 L433.5,128.2 L434.5,128.7 L435.5,129.2 L436.5,129.7 L437.5,130.2 L438.5,130.7 L439.5,131.1 L440.5,131.5 L441.5,132.0 L442.5,132.4 L443.5,132.8 L444.5,133.1 L445.5,133.5 L446.5,133.9 L447.5,134.3 L448.5,134.6 L449.5,134.9 L450.5,135.3 L451.5,135.6 L452.5,135.9 L453.5,136.2 L454.5,136.5 L455.5,136.7 L456.5,137.0 L457.5,137.2 L458.5,137.4 L459.5,137.6 L460.5,137.7 L461.5,137.9 L462.5,138.0 L463.5,138.2 L464.5,138.3 L465.5,138.4 L466.5,138.5 L467.5,138.6 L468.5,138.6 L469.5,138.7 L470.5,138.8 L471.5,138.8 L472.5,138.9 L473.5,138.9 L474.5,139.0 L475.5,139.0 L476.5,139.0 L477.5,139.0 L478.5,139.0 L479.5,139.1 L480.5,139.1 L481.5,139.1 L482.5,139.1 L483.5,139.1 L484.5,139.1 L485.5,139.1 L486.5,139.1 L487.5,139.1 L488.5,139.1 L489.5,139.1 L490.5,139.2 L491.5,139.2 L492.5,139.2 L493.5,139.2 L494.5,139.2 L495.5,139.2 L496.5,139.2 L497.0,139.2" fill="none" stroke="#5e1a28" stroke-width="0.9" stroke-linejoin="round"/>
<path d="M308.5,57.8 L309.6,61.0 L310.9,58.4 L312.2,60.8 L313.3,58.0 L315.0,60.6 L316.4,57.9 L317.4,62.3 L318.5,58.2 L319.9,61.8 L321.1,61.0 L321.8,58.0 L322.8,54.0 L323.8,52.5 L324.8,54.0 L325.6,58.0 L326.2,62.5 L327.0,60.5 L327.0,60.5 L328.0,63.1 L329.0,66.5 L330.0,69.8 L331.0,72.7 L332.0,75.3 L333.0,77.8 L334.0,80.1 L335.0,82.2 L336.0,84.2 L337.0,86.0 L338.0,87.4 L339.0,88.5 L340.0,89.5 L341.0,90.4 L342.0,91.2 L343.0,91.9 L344.0,92.4 L345.0,93.0 L346.0,93.5 L347.0,94.0 L348.0,94.6 L349.0,95.1 L350.0,95.7 L351.0,96.3 L352.0,97.0 L353.0,97.8 L354.0,98.7 L355.0,99.6 L356.0,100.5 L357.0,101.5 L358.0,102.5 L359.0,103.5 L360.0,104.5 L361.0,105.5 L362.0,106.5 L363.0,107.6 L364.0,108.7 L365.0,109.8 L366.0,111.0 L367.0,112.1 L368.0,113.3 L369.0,114.5 L370.0,115.7 L371.0,116.9 L372.0,118.1 L373.0,119.4 L374.0,120.7 L375.0,122.1 L376.1,122.8" fill="none" stroke="#000" stroke-width="1.0" stroke-linejoin="round"/>
<path d="M376.1,122.8 L377.1,126.2 L378.2,126.6 L378.8,129.1 L380.0,129.7 L380.7,132.7 L381.7,133.4 L382.8,137.0 L384.2,139.7 L385.3,139.1 L386.3,142.0 L386.8,144.7 L387.8,146.5 L388.9,146.6 L389.8,150.3 L391.2,150.0 L392.0,154.4 L393.0,153.7 L394.3,157.1 L394.9,155.5 L396.2,155.8 L396.7,157.4 L398.3,158.3 L398.7,156.5 L400.0,159.5 L400.8,157.9 L401.9,161.6 L403.1,161.5 L404.0,164.2 L404.8,162.3 L406.2,166.7 L407.1,164.5 L408.0,167.0 L409.2,168.1 L409.8,165.3 L411.0,169.6 L412.1,167.6 L412.8,165.7 L414.2,168.8 L415.2,170.3 L416.0,166.8 L416.7,168.6 L418.2,166.6 L419.0,169.3 L420.1,170.0 L420.7,169.6 L422.3,168.4 L422.9,170.2 L424.1,167.4 L425.2,172.0 L426.1,167.9 L427.1,171.0 L427.7,168.3 L428.8,172.8 L430.1,170.5 L431.1,173.7 L432.2,169.4 L433.3,173.6 L433.7,170.8 L435.2,170.1 L435.8,173.5 L437.0,173.1 L438.1,171.9 L439.0,173.8 L439.9,175.4 L441.1,171.5 L441.8,174.2 L442.8,174.6 L444.0,177.3 L445.0,172.2 L446.3,176.2 L447.0,173.8 L448.2,176.9 L448.9,172.9 L449.8,175.9 L450.9,175.3 L452.2,176.4 L453.2,174.1 L453.9,173.9 L455.1,177.5 L456.0,174.5 L456.8,177.0 L458.2,175.1 L458.9,176.6 L459.8,175.6 L461.3,173.6 L462.2,177.3 L463.1,175.3 L463.7,177.1 L465.0,174.7 L466.1,177.8 L467.0,175.0 L467.8,178.6 L469.1,174.8 L470.0,175.3 L471.0,179.3 L471.9,178.8 L472.9,176.0 L474.1,179.3 L475.3,178.3 L476.2,175.9 L477.0,175.4 L478.1,179.1 L479.3,178.7 L480.2,175.8 L480.7,179.7 L482.0,175.9 L482.9,179.1 L484.0,175.7 L484.8,179.4 L486.1,175.7 L487.3,178.9 L488.2,176.0 L488.8,178.4 L489.9,178.5 L490.8,176.8 L491.8,179.3 L493.1,176.4 L494.2,178.6 L495.2,175.7 L495.7,179.6 L496.9,175.5" fill="none" stroke="#111" stroke-width="1.3" stroke-linejoin="round"/>
<path d="M308.5,59.3 L309.6,61.0 L311.1,58.8 L312.3,62.4 L313.8,59.1 L314.8,61.0 L315.3,57.0 L316.0,52.5 L316.8,51.0 L317.6,52.5 L318.3,57.0 L318.9,62.0 L319.7,61.0 L319.7,61.0 L320.7,65.6 L321.7,70.2 L322.7,74.6 L323.7,78.3 L324.7,81.6 L325.7,84.6 L326.7,87.5 L327.7,90.1 L328.7,92.3 L329.7,93.9 L330.7,95.3 L331.7,96.7 L332.7,97.9 L333.7,99.1 L334.7,100.1 L335.7,101.2 L336.7,102.2 L337.7,103.2 L338.7,104.2 L339.7,105.2 L340.7,106.3 L341.7,107.6 L342.7,108.9 L343.7,110.3 L344.7,111.8 L345.7,113.3 L346.7,114.8 L347.7,116.3 L348.7,117.8 L349.7,119.3 L350.7,120.9 L351.7,122.5 L352.7,124.2 L353.7,126.1 L354.7,128.0 L355.7,130.0 L356.7,131.9 L357.7,133.9 L358.7,135.9 L359.7,137.8" fill="none" stroke="#36419a" stroke-width="0.9" stroke-linejoin="round"/>
<path d="M359.7,137.8 L360.9,138.9 L361.8,140.8 L362.9,144.5 L363.5,145.2 L364.5,147.6 L365.9,148.7 L366.7,152.2 L367.7,152.2 L368.8,154.8 L370.0,157.5 L370.7,157.4 L371.8,159.9 L372.7,162.4 L373.7,161.9 L374.6,164.6 L375.6,165.4 L376.9,163.9 L377.8,167.0 L378.8,164.7 L379.6,165.8 L380.8,168.3 L381.8,166.9 L382.8,169.9 L383.7,168.6 L384.4,169.1 L385.6,168.2 L386.6,168.7 L387.7,171.4 L388.7,168.3 L389.7,171.5 L390.6,172.8 L391.7,170.1 L392.5,172.5 L393.8,172.1 L394.9,175.4 L395.5,172.9 L396.9,174.1 L397.5,172.2 L399.0,175.4 L399.4,172.7 L400.4,176.1 L401.9,174.0 L402.7,176.0 L403.9,175.0 L404.7,177.9 L405.9,175.7 L407.0,178.7 L407.8,176.6 L408.6,177.1 L409.8,180.6 L410.6,177.8 L411.8,180.4 L412.9,182.5 L413.6,182.0 L414.9,182.1 L415.9,180.4 L416.5,182.3 L417.5,179.7 L418.7,182.4 L419.5,179.6 L420.7,182.7 L421.5,180.0 L422.7,182.5 L423.4,180.2 L424.8,180.1 L425.6,181.0 L427.0,181.8 L427.6,182.5 L428.9,182.5 L429.4,183.4 L430.4,181.0 L432.0,183.4 L432.6,182.1 L433.7,180.2 L434.6,183.7 L436.0,181.6 L436.6,182.3 L437.4,183.8 L439.0,183.6 L440.0,181.9 L440.9,183.0 L441.5,181.7 L442.5,182.9 L443.5,182.3 L445.0,184.3 L445.7,184.3 L446.8,181.0 L447.7,183.5 L448.4,182.4 L449.9,183.9 L450.6,182.1 L451.7,182.3 L453.0,185.5 L453.5,181.5 L454.5,183.8 L456.0,181.4 L456.4,183.9 L457.4,182.7 L458.4,182.6 L459.7,182.4 L460.5,182.9 L461.5,184.9 L462.7,183.3 L463.8,184.1 L464.4,184.8 L465.4,182.9 L466.9,183.1 L467.7,184.0 L468.9,184.5 L469.8,183.5 L470.7,185.0 L471.9,182.7 L472.9,185.4 L473.7,182.6 L474.4,185.3 L475.5,184.8 L476.5,182.1 L477.8,185.1 L478.5,183.4 L479.5,182.5 L480.5,185.5 L481.9,184.2 L482.5,185.7 L483.7,186.4 L485.0,185.8 L485.6,185.5 L486.9,183.1 L487.7,182.6 L488.7,183.3 L489.4,185.8 L490.5,183.6 L491.8,183.7 L492.4,183.6 L493.6,185.8 L494.6,183.6 L495.6,186.2 L496.8,184.2 L497.0,184.4" fill="none" stroke="#2f3a8c" stroke-width="1.2" stroke-linejoin="round"/>
<text transform="translate(456.50,57.70) scale(0.950,1)" font-size="10.00" font-weight="normal" text-anchor="start" fill="#3a6e40"  stroke="#3a6e40" stroke-width="0.25">200uM</text>
<text transform="translate(457.50,132.10) scale(0.950,1)" font-size="10.00" font-weight="normal" text-anchor="start" fill="#a82a38"  stroke="#a82a38" stroke-width="0.25">100uM</text>
<text transform="translate(454.60,168.00) scale(0.950,1)" font-size="10.00" font-weight="normal" text-anchor="start" fill="#111"  stroke="#111" stroke-width="0.25">50uM</text>
<text transform="translate(454.60,195.60) scale(0.950,1)" font-size="10.00" font-weight="normal" text-anchor="start" fill="#3a4598"  stroke="#3a4598" stroke-width="0.25">0uM</text>
<rect x="144.60" y="342.70" width="285.80" height="190.40" fill="#fff" stroke="#111" stroke-width="1"/>
<rect x="153.80" y="351.60" width="76.20" height="181.50" fill="#545fa8" stroke="#222" stroke-width="0.6"/>
<text transform="translate(192.40,364.20) scale(1.000,1)" font-size="11.10" font-weight="normal" text-anchor="middle" fill="#12123a"  stroke="#12123a" stroke-width="0.25">100%</text>
<line x1="191.9" y1="342.7" x2="191.9" y2="347.2" stroke="#111" stroke-width="0.9"/>
<line x1="191.9" y1="533.1" x2="191.9" y2="528.6" stroke="#111" stroke-width="0.9"/>
<rect x="249.20" y="355.20" width="76.60" height="177.90" fill="#5a9a52" stroke="#222" stroke-width="0.6"/>
<text transform="translate(288.00,367.80) scale(1.000,1)" font-size="11.10" font-weight="normal" text-anchor="middle" fill="#0f2a10"  stroke="#0f2a10" stroke-width="0.25">98%</text>
<line x1="287.5" y1="342.7" x2="287.5" y2="347.2" stroke="#111" stroke-width="0.9"/>
<line x1="287.5" y1="533.1" x2="287.5" y2="528.6" stroke="#111" stroke-width="0.9"/>
<rect x="344.80" y="358.80" width="76.30" height="174.30" fill="#cc3d58" stroke="#222" stroke-width="0.6"/>
<text transform="translate(383.45,371.40) scale(1.000,1)" font-size="11.10" font-weight="normal" text-anchor="middle" fill="#3a0a14"  stroke="#3a0a14" stroke-width="0.25">96%</text>
<line x1="383.0" y1="342.7" x2="383.0" y2="347.2" stroke="#111" stroke-width="0.9"/>
<line x1="383.0" y1="533.1" x2="383.0" y2="528.6" stroke="#111" stroke-width="0.9"/>
<line x1="239.8" y1="342.7" x2="239.8" y2="345.2" stroke="#111" stroke-width="0.8"/>
<line x1="239.8" y1="533.1" x2="239.8" y2="530.6" stroke="#111" stroke-width="0.8"/>
<line x1="335.2" y1="342.7" x2="335.2" y2="345.2" stroke="#111" stroke-width="0.8"/>
<line x1="335.2" y1="533.1" x2="335.2" y2="530.6" stroke="#111" stroke-width="0.8"/>
<text transform="translate(138.90,356.30) scale(0.960,1)" font-size="11.20" font-weight="normal" text-anchor="end" fill="#1a1a1a"  stroke="#1a1a1a" stroke-width="0.25">100</text>
<line x1="144.6" y1="351.9" x2="149.1" y2="351.9" stroke="#111" stroke-width="0.9"/>
<line x1="430.4" y1="351.9" x2="425.9" y2="351.9" stroke="#111" stroke-width="0.9"/>
<text transform="translate(138.90,401.30) scale(0.960,1)" font-size="11.20" font-weight="normal" text-anchor="end" fill="#1a1a1a"  stroke="#1a1a1a" stroke-width="0.25">75</text>
<line x1="144.6" y1="396.9" x2="149.1" y2="396.9" stroke="#111" stroke-width="0.9"/>
<line x1="430.4" y1="396.9" x2="425.9" y2="396.9" stroke="#111" stroke-width="0.9"/>
<text transform="translate(138.90,446.50) scale(0.960,1)" font-size="11.20" font-weight="normal" text-anchor="end" fill="#1a1a1a"  stroke="#1a1a1a" stroke-width="0.25">50</text>
<line x1="144.6" y1="442.1" x2="149.1" y2="442.1" stroke="#111" stroke-width="0.9"/>
<line x1="430.4" y1="442.1" x2="425.9" y2="442.1" stroke="#111" stroke-width="0.9"/>
<text transform="translate(138.90,492.60) scale(0.960,1)" font-size="11.20" font-weight="normal" text-anchor="end" fill="#1a1a1a"  stroke="#1a1a1a" stroke-width="0.25">25</text>
<line x1="144.6" y1="488.2" x2="149.1" y2="488.2" stroke="#111" stroke-width="0.9"/>
<line x1="430.4" y1="488.2" x2="425.9" y2="488.2" stroke="#111" stroke-width="0.9"/>
<text transform="translate(138.90,534.60) scale(0.960,1)" font-size="11.20" font-weight="normal" text-anchor="end" fill="#1a1a1a"  stroke="#1a1a1a" stroke-width="0.25">0</text>
<text x="276.60" y="320.60" font-size="10.55" font-weight="bold" text-anchor="middle" fill="#111"  stroke="#111" stroke-width="0.3">Effect of ADP Inhibitors on 5 nM NPP4 Activity</text>
<text x="96.20" y="301.50" font-size="16.80" font-weight="bold" text-anchor="start" fill="#000"  stroke="#000" stroke-width="0.3">C</text>
<text x="188.50" y="551.30" font-size="10.50" font-weight="bold" text-anchor="middle" fill="#111" xml:space="preserve" stroke="#111" stroke-width="0.3">-  Antagonist</text>
<text x="283.40" y="551.30" font-size="10.50" font-weight="bold" text-anchor="middle" fill="#111"  stroke="#111" stroke-width="0.3">+ MRS 2179</text>
<text x="383.40" y="551.30" font-size="10.50" font-weight="bold" text-anchor="middle" fill="#111"  stroke="#111" stroke-width="0.3">+ MRS 2395</text>
<text transform="translate(112.5,436.6) rotate(-90)" font-size="10.6" font-weight="bold" text-anchor="middle" fill="#111" stroke="#111" stroke-width="0.3">NPP4 Activity (%)</text>
</svg>
</body></html>
